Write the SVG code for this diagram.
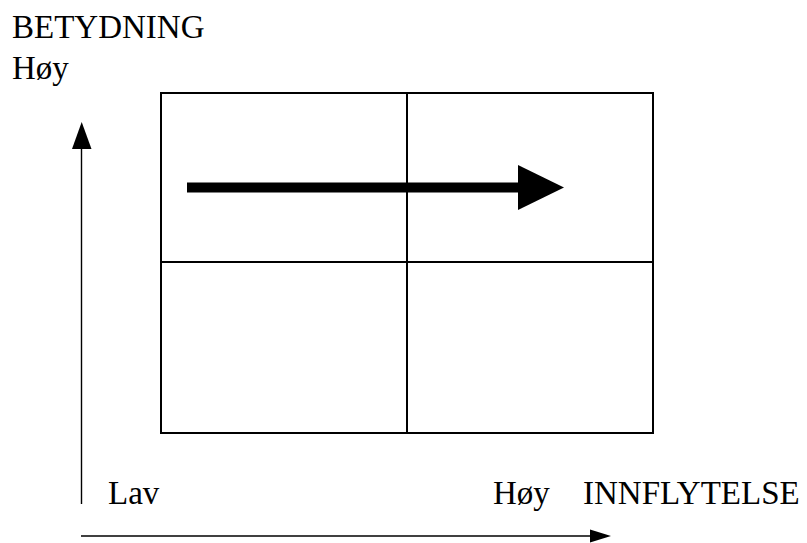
<svg xmlns="http://www.w3.org/2000/svg" width="807" height="543" viewBox="0 0 807 543">
<style>
  .t { font-family: 'Liberation Serif', 'Times New Roman', serif; font-size: 33px; fill: #000; }
  .grid { fill: none; stroke: #000; stroke-width: 2; }
  .axis { stroke: #000; stroke-width: 1.4; fill: none; }
</style>
<rect width="807" height="543" fill="#fff"/>
<g id="labels">
  <text class="t" x="12" y="37.5">BETYDNING</text>
  <text class="t" x="12" y="79">Høy</text>
  <text class="t" x="108" y="504">Lav</text>
  <text class="t" x="493" y="504">Høy</text>
  <text class="t" x="583" y="504">INNFLYTELSE</text>
</g>
<g id="matrix">
  <rect class="grid" x="161" y="93" width="492" height="340"/>
  <line class="grid" x1="407" y1="93" x2="407" y2="433"/>
  <line class="grid" x1="161" y1="262" x2="653" y2="262"/>
</g>
<g id="connectors">
  <line class="axis" x1="81.5" y1="504" x2="81.5" y2="148"/>
  <polygon points="72,149 91.5,149 81.7,122" fill="#000"/>
  <line class="axis" x1="81" y1="536" x2="591" y2="536"/>
  <polygon points="590,529.5 590,542.5 611,536" fill="#000"/>
  <line x1="187" y1="187.5" x2="520" y2="187.5" stroke="#000" stroke-width="10"/>
  <polygon points="518,165 518,210 564,187.5" fill="#000"/>
</g>
</svg>
